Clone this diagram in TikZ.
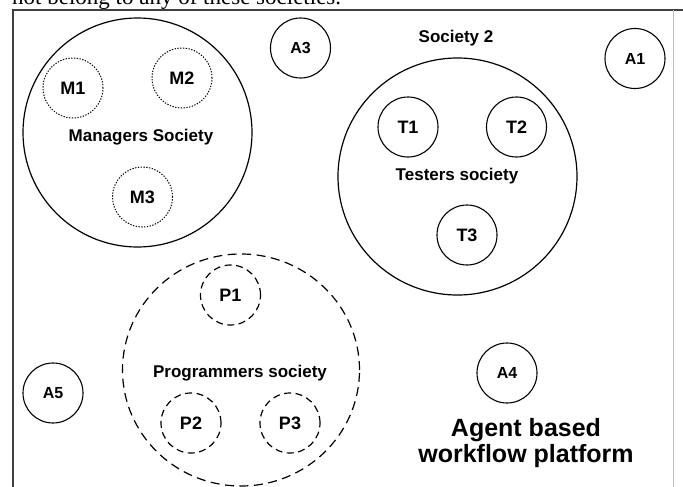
\documentclass[tikz,border=0pt]{standalone}
\usepackage{fontspec}
\setmainfont{Liberation Sans}
\newfontfamily\serifface{Liberation Serif}
\usetikzlibrary{shapes.geometric}
\tikzset{
  agent/.style={circle, draw, line width=1.1pt, minimum size=60pt, inner sep=0pt,
    font=\bfseries\fontsize{16}{18}\selectfont},
  member/.style={circle, draw, line width=1.1pt, minimum size=60pt, inner sep=0pt,
    font=\bfseries\fontsize{18}{20}\selectfont},
  dotmember/.style={member, line width=1pt, dash pattern=on 1.3pt off 1.5pt},
  dashmember/.style={member, line width=1.2pt, dash pattern=on 7pt off 4.5pt},
  society/.style={ellipse, draw, line width=1.2pt, inner sep=0pt},
  soclabel/.style={font=\bfseries\fontsize{17}{20}\selectfont, inner sep=0pt},
  frameline/.style={line width=2pt, draw=black!75},
}
\begin{document}
\begin{tikzpicture}[x=1pt, y=-1pt]
\useasboundingbox (0,0) rectangle (683,487);
% caption remnant at the top (cut off)
\node[anchor=base west, inner sep=0pt, font=\serifface\fontsize{23}{25}\selectfont] (cap) at (12,4.5) {not belong to any of these societies.};
% frame
\coordinate (ftl) at (13,10);
\coordinate (ftr) at (683,10);
\coordinate (fbl) at (13,487);
\coordinate (frt) at (673,10);
\coordinate (frb) at (673,487);
\draw[frameline] (ftr) -- (ftl) -- (fbl);
\draw[line width=0.8pt, draw=black!25] (frt) -- (frb);
% Managers society
\node[society, minimum width=229pt, minimum height=229pt] (mgr) at (137.5,132.5) {};
\node[soclabel] (mgrl) at (141,137) {Managers Society};
\node[dotmember] (m1) at (73,88) {M1};
\node[dotmember] (m2) at (182,78) {M2};
\node[dotmember] (m3) at (142.5,197) {M3};
% Society 2 / Testers
\node[soclabel] (s2) at (456,38.5) {Society 2};
\node[society, minimum width=239pt, minimum height=237pt] (tst) at (457.5,176.5) {};
\node[soclabel] (tstl) at (457,176) {Testers society};
\node[member] (t1) at (408,127) {T1};
\node[member] (t2) at (516.5,127) {T2};
\node[member] (t3) at (467,235) {T3};
% Programmers society
\node[society, dash pattern=on 9pt off 5.5pt, minimum width=237pt, minimum height=232pt] (prg) at (241,370) {};
\node[soclabel] (prgl) at (240,373) {Programmers society};
\node[dashmember] (p1) at (230.5,295) {P1};
\node[dashmember] (p2) at (191,423) {P2};
\node[dashmember] (p3) at (290,423) {P3};
% free agents
\node[agent] (a1) at (635,58.5) {A1};
\node[agent] (a3) at (300.5,48) {A3};
\node[agent] (a4) at (507,373) {A4};
\node[agent] (a5) at (53,393) {A5};
% platform title
\node[font=\bfseries\fontsize{25}{26}\selectfont, align=center, inner sep=0pt] (title) at (526,443) {Agent based\\workflow platform};
\end{tikzpicture}
\end{document}
